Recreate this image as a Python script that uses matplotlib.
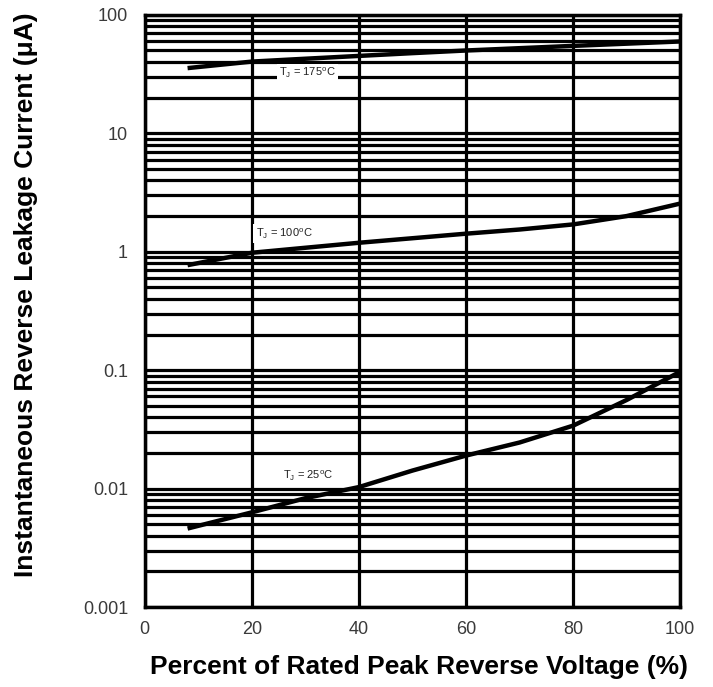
import numpy as np
import matplotlib
matplotlib.use("Agg")
import matplotlib.pyplot as plt
import matplotlib.ticker as ticker

# values (percent of rated voltage -> leakage uA)
pct = [8, 20, 30, 40, 50, 60, 70, 80, 90, 100]
i_175 = [35.5, 40.3, 42.6, 45, 47.5, 50, 52.3, 54.7, 57.1, 59.6]
i_100 = [0.77, 0.98, 1.08, 1.19, 1.3, 1.42, 1.54, 1.7, 2.0, 2.55]
i_25 = [0.0046, 0.0063, 0.0083, 0.0103, 0.0142, 0.019, 0.0245, 0.034, 0.056, 0.097]

labels = ['T$_\\mathregular{J}$ = 175$^\\mathregular{o}$C',
          'T$_\\mathregular{J}$ = 100$^\\mathregular{o}$C',
          'T$_\\mathregular{J}$ = 25$^\\mathregular{o}$C']
label_x = [30.4, 26, 30.5]
label_y = [32.4, 1.42, 0.0128]

ytick_vals = [0.001, 0.01, 0.1, 1, 10, 100]
ytick_text = ['0.001', '0.01', '0.1', '1', '10', '100']
xtick_vals = [0, 20, 40, 60, 80, 100]

plt.rcParams['font.family'] = ['Liberation Sans', 'DejaVu Sans']
plt.rcParams['mathtext.fontset'] = 'custom'
plt.rcParams['mathtext.rm'] = 'Liberation Sans'

fig = plt.figure(figsize=(7.13, 6.87), dpi=100)
ax = fig.add_axes([0.203, 0.1164, 0.751, 0.862])

ax.set_yscale('log')
ax.set_xlim(0, 100)
ax.set_ylim(0.001, 100)

ax.yaxis.set_major_locator(ticker.FixedLocator(ytick_vals))
ax.yaxis.set_major_formatter(ticker.FixedFormatter(ytick_text))
ax.yaxis.set_minor_locator(ticker.LogLocator(base=10, subs=np.arange(2, 10)))
ax.yaxis.set_minor_formatter(ticker.NullFormatter())
ax.xaxis.set_major_locator(ticker.FixedLocator(xtick_vals))

ax.grid(True, which='both', axis='y', color='black', linewidth=2.3)
ax.grid(True, which='major', axis='x', color='black', linewidth=2.3)
ax.tick_params(which='both', length=0, labelsize=13, labelcolor='#3a3a3a')
ax.tick_params(axis='y', pad=12)
ax.tick_params(axis='x', pad=10)
for s in ax.spines.values():
    s.set_linewidth(2.5)

for yv in (i_175, i_100, i_25):
    ax.plot(pct, yv, color='black', linewidth=3.2, solid_capstyle='butt')

for txt, lx, ly in zip(labels, label_x, label_y):
    ax.text(lx, ly, txt, fontsize=8, ha='center', va='center', color='#222222',
            bbox=dict(facecolor='white', edgecolor='none', pad=1.5))

ax.set_xlabel('Percent of Rated Peak Reverse Voltage (%)', fontsize=19,
              fontweight='bold')
ax.set_ylabel('Instantaneous Reverse Leakage Current (\u03bcA)', fontsize=19,
              fontweight='bold')
ax.xaxis.set_label_coords(0.512, -0.081)
ax.yaxis.set_label_coords(-0.20, 0.527)

fig.savefig('out.png', dpi=100)
